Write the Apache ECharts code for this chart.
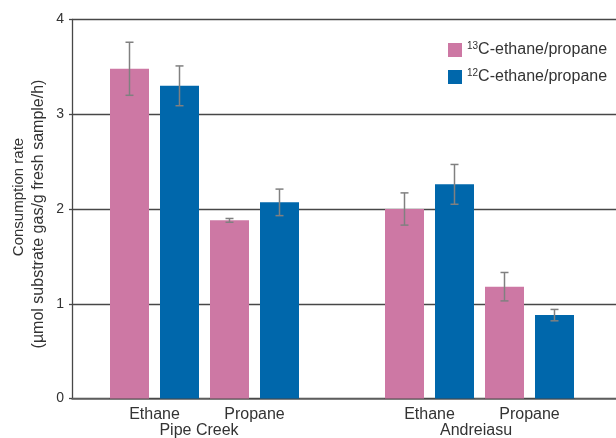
<!DOCTYPE html>
<html>
<head>
<meta charset="utf-8">
<script src="https://cdn.jsdelivr.net/npm/echarts@6/dist/echarts.min.js"></script>
<style>
  html, body { margin: 0; padding: 0; background: #fff; }
  #main { width: 616px; height: 438px; }
</style>
</head>
<body>
<div id="main"></div>
<script>
// 数据
var sites = ['Pipe Creek', 'Andreiasu'];
var gases = ['Ethane', 'Propane'];
// order: Pipe Creek Ethane, Pipe Creek Propane, Andreiasu Ethane, Andreiasu Propane
var c13Vals = [3.48, 1.88, 2.00, 1.18];
var c13Err  = [0.28, 0.02, 0.17, 0.15];
var c12Vals = [3.30, 2.07, 2.26, 0.88];
var c12Err  = [0.21, 0.14, 0.21, 0.06];
var yTicks = [0, 1, 2, 3, 4];
var names = ['c13', 'c12'];
var legendText = { c13: ['13', 'C-ethane/propane'], c12: ['12', 'C-ethane/propane'] };

var PINK = '#cd78a4', BLUE = '#0067ab', ERR = '#808080', LINE = '#474747';
var BAR_W = 39, BAR_GAP = 11, CAP = 4;
var FONT = 'Liberation Sans';
var pairLeft = [110, 210, 385, 485];

var myChart = echarts.init(document.getElementById('main'));

var grids = [{ left: 72, right: 0, top: 19.5, bottom: 39.5 }];
var xAxes = [{
  gridIndex: 0, type: 'value', min: 0, max: 1,
  axisLine: { show: true, lineStyle: { color: '#666', width: 1.5 } },
  axisTick: { show: false }, axisLabel: { show: false }, splitLine: { show: false }
}];
var yAxes = [{
  gridIndex: 0, type: 'value', min: yTicks[0], max: yTicks[yTicks.length - 1], interval: 1,
  axisLine: { show: true, lineStyle: { color: LINE, width: 1.3 } },
  axisTick: { show: true, length: 3, lineStyle: { color: LINE, width: 1.3 } },
  axisLabel: { fontSize: 14, color: '#333', margin: 8, fontFamily: FONT },
  splitLine: { show: true, lineStyle: { color: LINE, width: 1.4 } }
}];
var series = [];

//误差线
function errItem(params, api) {
  var lo = api.coord([api.value(0), api.value(1)]);
  var hi = api.coord([api.value(0), api.value(2)]);
  var x = lo[0] + api.value(3) * (BAR_W + BAR_GAP) / 2;
  var st = { stroke: ERR, lineWidth: 1.5 };
  return {
    type: 'group',
    children: [
      { type: 'line', shape: { x1: x, y1: lo[1], x2: x, y2: hi[1] }, style: st },
      { type: 'line', shape: { x1: x - CAP, y1: hi[1], x2: x + CAP, y2: hi[1] }, style: st },
      { type: 'line', shape: { x1: x - CAP, y1: lo[1], x2: x + CAP, y2: lo[1] }, style: st }
    ]
  };
}

for (var i = 0; i < 4; i++) {
  var g = i + 1;
  grids.push({ left: pairLeft[i], width: BAR_W * 2 + BAR_GAP, top: 19.5, bottom: 39.5 });
  xAxes.push({
    gridIndex: g, type: 'category', data: [gases[i % 2]], offset: 6,
    axisLine: { show: true, lineStyle: { color: LINE, width: 1.2 } },
    axisTick: { show: false },
    axisLabel: { fontSize: 16, color: '#333', margin: 2, fontFamily: FONT }
  });
  yAxes.push({ gridIndex: g, type: 'value', min: 0, max: 4, show: false });
  series.push({
    name: 'c13', type: 'bar', xAxisIndex: g, yAxisIndex: g,
    barWidth: BAR_W, barGap: (BAR_GAP / BAR_W * 100) + '%',
    itemStyle: { color: PINK }, data: [c13Vals[i]]
  });
  series.push({
    name: 'c12', type: 'bar', xAxisIndex: g, yAxisIndex: g,
    barWidth: BAR_W, barGap: (BAR_GAP / BAR_W * 100) + '%',
    itemStyle: { color: BLUE }, data: [c12Vals[i]]
  });
  series.push({
    type: 'custom', xAxisIndex: g, yAxisIndex: g, z: 5, silent: true,
    renderItem: errItem,
    data: [
      [0, c13Vals[i] - c13Err[i], c13Vals[i] + c13Err[i], -1],
      [0, c12Vals[i] - c12Err[i], c12Vals[i] + c12Err[i], 1]
    ]
  });
}

var option = {
  animation: false,
  textStyle: { fontFamily: FONT },
  grid: grids,
  xAxis: xAxes,
  yAxis: yAxes,
  legend: {
    data: names, orient: 'vertical', left: 443, top: 36,
    icon: 'rect', itemWidth: 14, itemHeight: 14, itemGap: 10,
    formatter: function (name) {
      return '{sup|' + legendText[name][0] + '}{n|' + legendText[name][1] + '}';
    },
    textStyle: {
      color: '#333',
      rich: {
        n: { fontSize: 16, lineHeight: 18, color: '#333', fontFamily: FONT },
        sup: { fontSize: 10, lineHeight: 8, verticalAlign: 'top', color: '#333', fontFamily: FONT }
      }
    }
  },
  graphic: [
    { type: 'text', x: 19, y: 197, rotation: Math.PI / 2,
      style: { text: 'Consumption rate', fill: '#333', fontSize: 15, fontFamily: FONT, align: 'center', verticalAlign: 'middle' } },
    { type: 'text', x: 39, y: 214, rotation: Math.PI / 2,
      style: { text: '(\u00b5mol substrate gas/g fresh sample/h)', fill: '#333', fontSize: 16, fontFamily: FONT, align: 'center', verticalAlign: 'middle' } },
    { type: 'text', x: 199, y: 431, style: { text: sites[0], fill: '#333', fontSize: 16, fontFamily: FONT, align: 'center', verticalAlign: 'middle' } },
    { type: 'text', x: 476, y: 431, style: { text: sites[1], fill: '#333', fontSize: 16, fontFamily: FONT, align: 'center', verticalAlign: 'middle' } }
  ],
  series: series
};

myChart.setOption(option);
</script>
</body>
</html>
